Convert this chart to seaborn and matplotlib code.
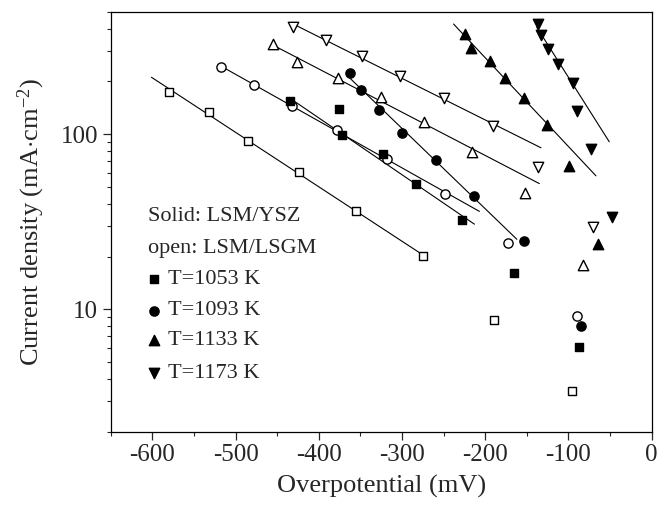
import numpy as np
import pandas as pd
import matplotlib
matplotlib.use("Agg")
import matplotlib.pyplot as plt
from matplotlib.ticker import FixedLocator, LogLocator, NullFormatter, FixedFormatter
import seaborn as sns

# Cathodic polarisation data: overpotential (mV) vs current density (mA/cm^2)
# open symbols: LSM/LSGM, solid symbols: LSM/YSZ
open_1053_x = [-580, -532, -485, -424, -355, -275, -190, -96]
open_1053_y = [175, 134, 91.5, 60.6, 36.2, 20.2, 8.7, 3.4]

open_1093_x = [-517, -478, -432, -378, -318, -248, -173, -90]
open_1093_y = [242, 190, 145, 106, 72.6, 45.7, 23.8, 9.1]

open_1133_x = [-455, -426, -377, -325, -274, -216, -152, -82]
open_1133_y = [326, 258, 209, 163, 118, 79, 46, 17.9]

open_1173_x = [-431, -391, -348, -302, -250, -191, -137, -71]
open_1173_y = [410, 343, 280, 216, 160, 111, 65, 29.4]

solid_1053_x = [-435, -376, -372, -323, -283, -228, -165, -87]
solid_1053_y = [155, 139, 98.3, 77.5, 52.2, 32.3, 16.1, 6.1]

solid_1093_x = [-362, -349, -328, -300, -259, -214, -153, -85]
solid_1093_y = [223, 179, 138, 102, 71.6, 44.3, 24.5, 8.0]

solid_1133_x = [-224, -217, -194, -176, -153, -126, -99, -64]
solid_1133_y = [374, 312, 260, 209, 160, 113, 66, 23.6]

solid_1173_x = [-137, -133, -125, -112, -94, -90, -73, -48]
solid_1173_y = [427, 369, 307, 252, 197, 136, 82, 33.6]

# points used for the Tafel fits and the span of each fitted line (mV)
fit_idx = {
    "o1053": [0, 1, 2, 3, 4, 5],
    "o1093": [0, 1, 2, 3, 4, 5],
    "o1133": [0, 1, 2, 3, 4, 5],
    "o1173": [0, 1, 2, 3, 4, 5],
    "s1053": [0, 2, 3, 4, 5],
    "s1093": [0, 1, 2, 3, 4, 5],
    "s1133": [0, 1, 2, 3, 4, 5],
    "s1173": [0, 1, 2, 3, 4],
}
fit_span = {
    "o1053": (-601, -275),
    "o1093": (-517, -207),
    "o1133": (-455, -135),
    "o1173": (-430, -133),
    "s1053": (-435, -213),
    "s1093": (-366, -162),
    "s1133": (-238, -67),
    "s1173": (-138, -51),
}

series = {
    "o1053": (open_1053_x, open_1053_y, "s", False),
    "o1093": (open_1093_x, open_1093_y, "o", False),
    "o1133": (open_1133_x, open_1133_y, "^", False),
    "o1173": (open_1173_x, open_1173_y, "v", False),
    "s1053": (solid_1053_x, solid_1053_y, "s", True),
    "s1093": (solid_1093_x, solid_1093_y, "o", True),
    "s1133": (solid_1133_x, solid_1133_y, "^", True),
    "s1173": (solid_1173_x, solid_1173_y, "v", True),
}
marker_area = {"s": 36, "o": 44, "^": 56, "v": 56}

legend_labels = ["T=1053 K", "T=1093 K", "T=1133 K", "T=1173 K"]
legend_markers = ["s", "o", "^", "v"]

sns.set_style("ticks")
plt.rcParams["font.family"] = ["Liberation Serif", "DejaVu Serif"]
plt.rcParams["mathtext.fontset"] = "custom"
plt.rcParams["mathtext.rm"] = "Liberation Serif"
plt.rcParams["mathtext.it"] = "Liberation Serif:italic"
plt.rcParams["axes.unicode_minus"] = False

fig = plt.figure(figsize=(6.6, 5.12), dpi=100)
ax = fig.add_axes([0.1677, 0.1568, 0.8197, 0.8203])

for key, (xs, ys, mk, filled) in series.items():
    df = pd.DataFrame({"eta": xs, "j": ys})
    sel = df.iloc[fit_idx[key]]
    k, b = np.polyfit(sel["eta"], np.log10(sel["j"]), 1)
    x0, x1 = fit_span[key]
    line = pd.DataFrame({"eta": [x0, x1]})
    line["j"] = 10 ** (k * line["eta"] + b)
    sns.lineplot(data=line, x="eta", y="j", ax=ax, color="black",
                 linewidth=0.8, zorder=2)
    sns.scatterplot(data=df, x="eta", y="j", ax=ax, marker=mk,
                    s=marker_area[mk],
                    facecolor="black" if filled else "white",
                    edgecolor="black", linewidth=1.0, zorder=3)

ax.set_yscale("log")
ax.set_xlim(-650, 0)
ax.set_ylim(2, 500)

ax.xaxis.set_major_locator(FixedLocator([-600, -500, -400, -300, -200, -100, 0]))
ax.xaxis.set_minor_locator(FixedLocator([-650, -550, -450, -350, -250, -150, -50]))
ax.yaxis.set_major_locator(FixedLocator([10, 100]))
ax.yaxis.set_major_formatter(FixedFormatter(["10", "100"]))
ax.yaxis.set_minor_locator(LogLocator(base=10, subs=np.arange(2, 10)))
ax.yaxis.set_minor_formatter(NullFormatter())

ax.tick_params(which="major", direction="out", length=6, width=0.9,
               labelsize=18, pad=3, top=False, right=False)
ax.tick_params(which="minor", direction="out", length=3, width=0.8,
               top=False, right=False)
for sp in ax.spines.values():
    sp.set_visible(True)
    sp.set_linewidth(0.9)
    sp.set_color("black")

ax.set_xlabel("Overpotential (mV)", fontsize=19, labelpad=6)
ax.set_ylabel("Current density (mA$\\cdot$cm$^{-2}$)", fontsize=19, labelpad=10)

# key
ax.text(0.069, 0.512, "Solid: LSM/YSZ", transform=ax.transAxes,
        fontsize=16, va="center", ha="left")
ax.text(0.069, 0.437, "open: LSM/LSGM", transform=ax.transAxes,
        fontsize=16, va="center", ha="left")
key_y = [0.363, 0.288, 0.218, 0.139]
for lab, mk, yy in zip(legend_labels, legend_markers, key_y):
    ax.scatter([0.080], [yy], transform=ax.transAxes, marker=mk,
               s=marker_area[mk], facecolor="black", edgecolor="black",
               linewidth=1.0, clip_on=False, zorder=3)
    ax.text(0.106, yy, lab, transform=ax.transAxes, fontsize=16,
            va="center", ha="left")

fig.savefig("out.png", dpi=100)
